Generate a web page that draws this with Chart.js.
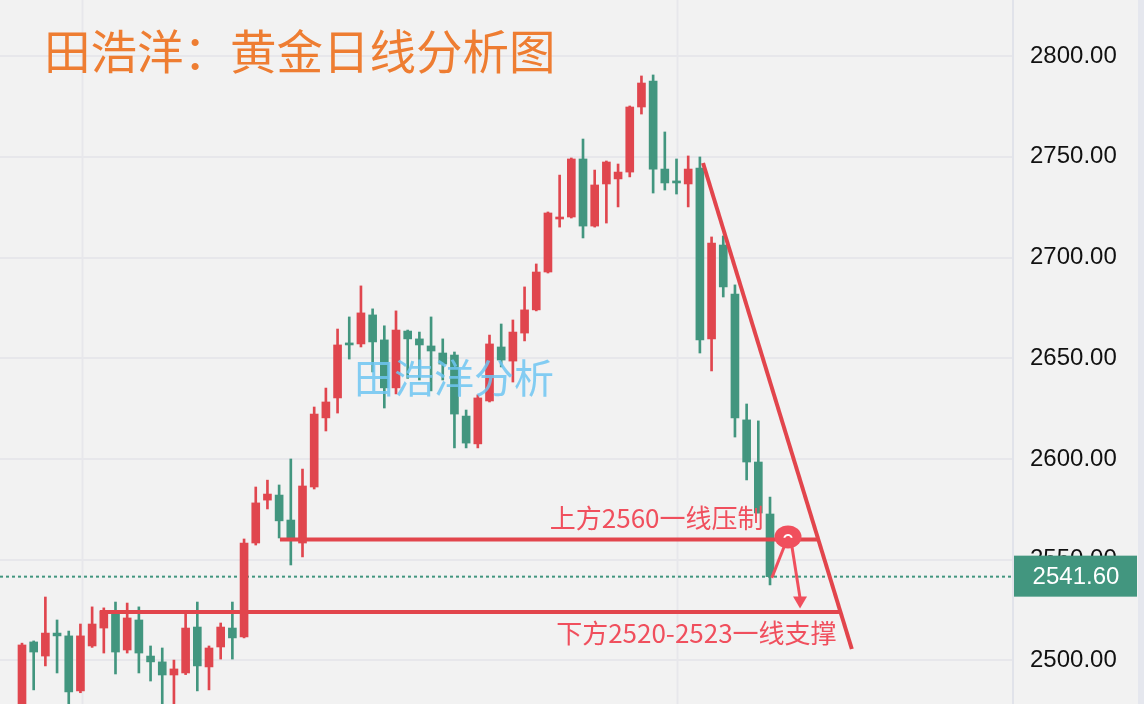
<!DOCTYPE html>
<html>
<head>
<meta charset="utf-8">
<script src="https://cdn.jsdelivr.net/npm/chart.js@4.4.1/dist/chart.umd.min.js"></script>
<style>
  html, body { margin: 0; padding: 0; background: #f2f2f2; }
  #wrap { width: 1144px; height: 704px; position: relative; }
</style>
</head>
<body>
<div id="wrap"><canvas id="myChart"></canvas></div>
<script>
// daily candles, oldest first
const opens  = [2470.0,2509.2,2502.2,2513.6,2512.2,2484.9,2507.2,2516.1,2523.1,2505.2,2520.1,2502.2,2499.3,2492.8,2493.8,2516.6,2496.8,2506.7,2516.1,2511.7,
                2558.3,2579.6,2582.1,2569.7,2558.3,2586.1,2620.4,2630.3,2657.6,2657.1,2671.5,2659.1,2635.3,2663.5,2659.6,2656.1,2652.6,2651.6,2621.3,2607.5,
                2628.8,2655.6,2648.6,2662.5,2674.0,2692.8,2719.1,2720.1,2748.9,2715.6,2736.5,2739.0,2742.4,2774.7,2787.6,2743.9,2738.0,2736.5,2744.4,2659.6,
                2706.2,2681.9,2619.4,2598.5,2572.7];
const highs  = [2508.6,2509.7,2531.5,2520.1,2514.6,2518.1,2526.6,2526.1,2529.0,2528.5,2526.6,2507.2,2506.2,2500.2,2523.6,2529.0,2507.2,2518.6,2529.0,2560.3,
                2586.1,2589.5,2587.1,2600.0,2595.0,2625.8,2635.2,2664.5,2670.5,2685.9,2674.5,2666.1,2673.5,2664.0,2663.0,2670.5,2659.6,2653.1,2624.3,2631.8,
                2661.5,2667.0,2669.0,2685.4,2696.8,2722.6,2740.9,2749.4,2758.8,2743.4,2747.9,2746.4,2775.2,2790.1,2790.6,2762.3,2748.9,2750.4,2749.9,2710.2,
                2710.7,2686.4,2627.3,2618.9,2581.1];
const lows   = [2462.0,2485.4,2497.3,2493.8,2476.0,2484.0,2506.5,2503.7,2493.3,2503.7,2493.8,2489.8,2477.0,2476.0,2493.0,2484.9,2485.4,2500.7,2500.7,2511.2,
                2557.3,2575.2,2560.8,2547.4,2551.4,2585.1,2613.9,2622.8,2649.6,2655.6,2643.2,2625.3,2632.3,2640.0,2639.2,2633.8,2639.2,2605.5,2605.5,2605.5,
                2628.3,2645.7,2638.2,2658.6,2673.5,2692.3,2715.1,2719.6,2709.7,2715.1,2717.1,2725.1,2740.0,2771.2,2732.0,2733.5,2731.5,2725.1,2652.6,2643.7,
                2680.4,2610.9,2589.6,2573.2,2537.5];
const closes = [2507.7,2504.2,2513.6,2512.2,2484.4,2512.2,2518.1,2524.6,2504.2,2521.1,2503.7,2499.3,2492.8,2495.8,2516.1,2497.3,2506.2,2516.6,2511.2,2558.3,
                2578.2,2582.6,2569.3,2559.8,2586.6,2622.3,2628.3,2656.6,2656.6,2672.5,2658.1,2635.3,2664.0,2659.6,2656.6,2653.6,2647.1,2622.3,2607.9,2630.3,
                2657.1,2649.1,2663.0,2674.0,2692.8,2722.1,2720.1,2748.9,2715.6,2736.0,2747.4,2742.4,2774.7,2786.6,2743.9,2737.0,2737.0,2743.9,2659.1,2707.2,
                2685.4,2620.4,2598.5,2573.2,2541.6];

const yTicks = [2500, 2550, 2600, 2650, 2700, 2750, 2800];
const lastPrice = 2541.60;
const monthLines = [5.14, 56];          // vertical grid lines (bar index)

const titleText = '田浩洋：黄金日线分析图';
const watermark = '田浩洋分析';
const resistText = '上方2560一线压制';
const supportText = '下方2520-2523一线支撑';
const resistLevel = 2560;
const supportLevel = 2524;

const UP = '#e0464e';
const DOWN = '#42967f';

let wicks = [], bodies = [], colors = [];
for (let i = 0; i < opens.length; i++) {
    wicks.push({x: i, y: [lows[i], highs[i]]});
    bodies.push({x: i, y: [Math.min(opens[i], closes[i]), Math.max(opens[i], closes[i])]});
    colors.push(closes[i] >= opens[i] ? UP : DOWN);
}

function line(ctx, x1, y1, x2, y2, color, w) {
    ctx.beginPath();
    ctx.moveTo(x1, y1);
    ctx.lineTo(x2, y2);
    ctx.strokeStyle = color;
    ctx.lineWidth = w;
    ctx.stroke();
}

const drawings = {
    id: 'drawings',
    beforeDraw(chart) {
        const ctx = chart.ctx;
        ctx.save();
        ctx.fillStyle = '#f2f2f2';
        ctx.fillRect(0, 0, chart.width, chart.height);
        ctx.fillStyle = '#e5e7ee';
        ctx.fillRect(1138, 0, chart.width - 1138, chart.height);
        ctx.restore();
    },
    beforeDatasetsDraw(chart) {
        const ctx = chart.ctx, xs = chart.scales.x, ys = chart.scales.y, a = chart.chartArea;
        ctx.save();
        monthLines.forEach(v => {
            const px = Math.round(xs.getPixelForValue(v)) + 0.5;
            line(ctx, px, a.top, px, a.bottom, '#e7e7eb', 2);
        });
        const py = ys.getPixelForValue(lastPrice);
        ctx.setLineDash([3, 3]);
        line(ctx, a.left, py, a.right, py, DOWN, 2);
        ctx.restore();
    },
    afterDatasetsDraw(chart) {
        const ctx = chart.ctx, xs = chart.scales.x, ys = chart.scales.y;
        const X = v => xs.getPixelForValue(v), Y = v => ys.getPixelForValue(v);
        ctx.save();
        const red = '#e2454c', pink = '#f04f5d';
        // resistance / support / trend line
        line(ctx, X(22.07), Y(resistLevel), X(68.1), Y(resistLevel), red, 4);
        line(ctx, X(6.67), Y(supportLevel), X(69.9), Y(supportLevel), red, 4);
        line(ctx, X(58.27), Y(2746.9), X(71.0), Y(2505.7), red, 4);

        // marker and arrows
        const cx = X(65.54), cy = Y(2561.3);
        line(ctx, cx - 4, cy + 10, X(64.15), Y(2541), pink, 3);
        line(ctx, cx + 4, cy + 10, X(66.57), Y(2531), pink, 3);
        const tx = X(66.57), ty = Y(2525.8);
        ctx.beginPath();
        ctx.moveTo(tx, ty);
        ctx.lineTo(tx - 7, ty - 12);
        ctx.lineTo(tx + 7, ty - 12);
        ctx.closePath();
        ctx.fillStyle = pink;
        ctx.fill();
        ctx.beginPath();
        ctx.ellipse(cx, cy, 13.5, 11.5, 0, 0, Math.PI * 2);
        ctx.fillStyle = pink;
        ctx.fill();
        ctx.beginPath();
        ctx.arc(cx, cy + 2, 4, Math.PI * 1.1, Math.PI * 1.9);
        ctx.strokeStyle = '#ffffff';
        ctx.lineWidth = 2;
        ctx.stroke();

        // labels
        ctx.font = '26px "Noto Sans CJK SC"';
        ctx.fillStyle = pink;
        ctx.textAlign = 'center';
        ctx.textBaseline = 'middle';
        ctx.fillText(resistText, X(54.3), Y(2570.7));
        ctx.fillText(supportText, X(57.7), Y(2513.6));

        // watermark and title
        ctx.font = '40px "Noto Sans CJK SC"';
        ctx.fillStyle = 'rgba(110,198,242,0.85)';
        ctx.textAlign = 'left';
        ctx.fillText(watermark, 354, 378);
        ctx.font = '46.5px "Noto Sans CJK SC"';
        ctx.fillStyle = '#ee7d32';
        ctx.fillText(titleText, 44, 51);
        ctx.restore();
    },
    afterDraw(chart) {
        const ctx = chart.ctx, ys = chart.scales.y;
        const py = ys.getPixelForValue(lastPrice);
        ctx.save();
        ctx.fillStyle = DOWN;
        ctx.fillRect(1014, py - 21, 123, 41);
        ctx.fillStyle = '#ffffff';
        ctx.font = '24px "Liberation Sans"';
        ctx.textAlign = 'center';
        ctx.textBaseline = 'middle';
        ctx.fillText(lastPrice.toFixed(2), 1076, py + 1);
        ctx.restore();
    }
};

new Chart(document.getElementById('myChart'), {
    type: 'bar',
    data: {
        datasets: [
            { data: wicks, backgroundColor: colors, barThickness: 2, borderWidth: 0 },
            { data: bodies, backgroundColor: colors, barThickness: 8, borderWidth: 0, minBarLength: 2 }
        ]
    },
    options: {
        responsive: true,
        maintainAspectRatio: false,
        animation: false,
        grouped: false,
        layout: { padding: 0 },
        plugins: { legend: { display: false }, tooltip: { enabled: false } },
        scales: {
            x: {
                type: 'linear',
                display: false,
                min: -1.882,
                max: 84.79,
                offset: false
            },
            y: {
                position: 'right',
                min: 2478.4,
                max: 2827.8,
                afterBuildTicks: scale => { scale.ticks = yTicks.map(v => ({ value: v })); },
                afterFit: scale => {
                    scale.width = 131;
                    scale.paddingTop = 0;
                    scale.paddingBottom = 0;
                },
                grid: { color: '#e7e7eb', lineWidth: 2, drawTicks: false },
                border: { color: '#e1e3ea', width: 2 },
                ticks: {
                    padding: 17,
                    crossAlign: 'near',
                    color: '#111111',
                    font: { family: 'Liberation Sans', size: 24 },
                    callback: v => v.toFixed(2)
                }
            }
        }
    },
    plugins: [drawings]
});
</script>
</body>
</html>
